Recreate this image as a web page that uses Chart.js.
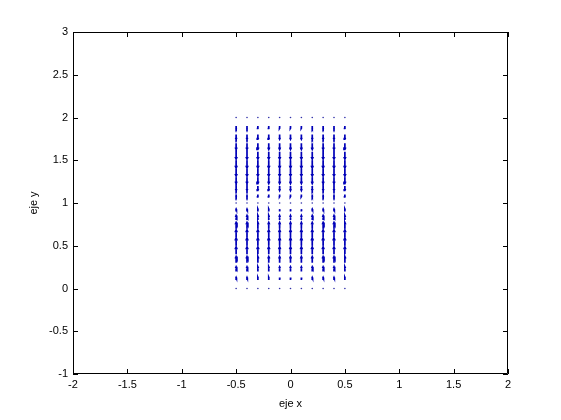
<!DOCTYPE html>
<html>
<head>
<meta charset="utf-8">
<script src="https://cdn.jsdelivr.net/npm/chart.js"></script>
<style>
  html, body { margin: 0; padding: 0; background: #fff; }
  #wrap { width: 561px; height: 420px; }
</style>
</head>
<body>
<div id="wrap"><canvas id="myChart"></canvas></div>
<script>
// quiver grid
const xVals = [-0.5, -0.4, -0.3, -0.2, -0.1, 0, 0.1, 0.2, 0.3, 0.4, 0.5];
const yVals = [0, 0.1, 0.2, 0.3, 0.4, 0.5, 0.6, 0.7, 0.8, 0.9, 1,
               1.1, 1.2, 1.3, 1.4, 1.5, 1.6, 1.7, 1.8, 1.9, 2];
// vertical component per row (same in every column), horizontal is zero
const vRow = [0, 0.31, 0.59, 0.81, 0.95, 1, 0.95, 0.81, 0.59, 0.31, 0,
              -0.31, -0.59, -0.81, -0.95, -1, -0.95, -0.81, -0.59, -0.31, 0];
const uRow = [0, 0, 0, 0, 0, 0, 0, 0, 0, 0, 0, 0, 0, 0, 0, 0, 0, 0, 0, 0, 0];
const xTicks = [-2, -1.5, -1, -0.5, 0, 0.5, 1, 1.5, 2];
const yTicks = [-1, -0.5, 0, 0.5, 1, 1.5, 2, 2.5, 3];

const arrowScale = 0.09;   // quiver autoscale
const alpha = 0.33, beta = 0.33;

const segs = [];
const dots = [];
yVals.forEach((y, j) => {
  xVals.forEach(x => {
    const u = uRow[j] * arrowScale, v = vRow[j] * arrowScale;
    if (u === 0 && v === 0) { dots.push({x, y}); return; }
    const tx = x + u, ty = y + v;
    segs.push({x, y}, {x: tx, y: ty}, {x: tx, y: null});
    segs.push({x: tx - alpha * (u + beta * v), y: ty - alpha * (v - beta * u)},
              {x: tx, y: ty},
              {x: tx - alpha * (u - beta * v), y: ty - alpha * (v + beta * u)},
              {x: tx, y: null});
  });
});

const font = { family: 'Liberation Sans, Arial, sans-serif', size: 11 };
const fmt = v => String(Math.round(v * 10) / 10);

const boxTicks = {
  id: 'boxTicks',
  afterDraw(chart) {
    const { ctx, chartArea: a, scales } = chart;
    ctx.save();
    ctx.strokeStyle = '#000';
    ctx.lineWidth = 1;
    ctx.beginPath();
    ctx.rect(a.left + 0.5, a.top + 0.5, a.right - a.left - 1, a.bottom - a.top - 1);
    const len = 5;
    xTicks.forEach(t => {
      const px = Math.round(scales.x.getPixelForValue(t)) + 0.5;
      ctx.moveTo(px, a.bottom); ctx.lineTo(px, a.bottom - len);
      ctx.moveTo(px, a.top); ctx.lineTo(px, a.top + len);
    });
    yTicks.forEach(t => {
      const py = Math.round(scales.y.getPixelForValue(t)) + 0.5;
      ctx.moveTo(a.left, py); ctx.lineTo(a.left + len, py);
      ctx.moveTo(a.right, py); ctx.lineTo(a.right - len, py);
    });
    ctx.stroke();
    ctx.restore();
  }
};

new Chart(document.getElementById('myChart'), {
  type: 'scatter',
  data: {
    datasets: [
      {
        data: segs,
        showLine: true,
        spanGaps: false,
        borderColor: '#0000b8',
        borderWidth: 1.7,
        pointRadius: 0,
        tension: 0
      },
      {
        data: dots,
        pointRadius: 0.8,
        pointBorderWidth: 0,
        backgroundColor: '#3333aa'
      }
    ]
  },
  options: {
    responsive: true,
    maintainAspectRatio: false,
    animation: false,
    events: [],
    layout: { padding: { left: 0, top: 32, right: 53, bottom: 0 } },
    plugins: { legend: { display: false }, tooltip: { enabled: false } },
    scales: {
      x: {
        type: 'linear', min: -2, max: 2,
        afterBuildTicks: s => { s.ticks = xTicks.map(v => ({ value: v })); },
        afterFit: s => { s.height = 46; },
        grid: { display: false, drawTicks: false },
        border: { display: false },
        ticks: { color: '#000', font, padding: 4, maxRotation: 0, callback: fmt },
        title: { display: true, text: 'eje x', color: '#000', font, padding: { top: 0, bottom: 9 } }
      },
      y: {
        type: 'linear', min: -1, max: 3,
        afterBuildTicks: s => { s.ticks = yTicks.map(v => ({ value: v })); },
        afterFit: s => { s.width = 73; },
        grid: { display: false, drawTicks: false },
        border: { display: false },
        ticks: { color: '#000', font, padding: 5, callback: fmt },
        title: { display: true, text: 'eje y', color: '#000', font, padding: { top: 27, bottom: 0 } }
      }
    }
  },
  plugins: [boxTicks]
});
</script>
</body>
</html>
